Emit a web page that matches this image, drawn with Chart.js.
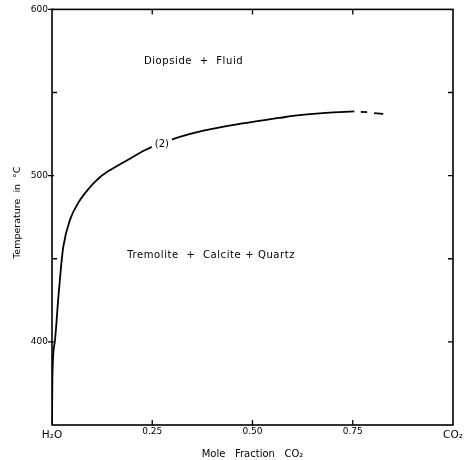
<!DOCTYPE html>
<html>
<head>
<meta charset="utf-8">
<script src="https://cdn.jsdelivr.net/npm/chart.js@4.4.1/dist/chart.umd.min.js"></script>
<style>
  html, body { margin: 0; padding: 0; background: #fff; }
  canvas { display: block; }
</style>
</head>
<body>
<canvas id="c" width="474" height="460"></canvas>
<script>
// ---- data ----
const curveX = [0, 0.001, 0.007, 0.0157, 0.0224, 0.0281, 0.0448, 0.0654, 0.0903, 0.1194, 0.1485, 0.1898, 0.2313, 0.3017, 0.3806, 0.475, 0.567, 0.600, 0.683, 0.754];
const curveT = [350, 379, 400, 426.4, 444.8, 457.1, 473.4, 483.6, 491.8, 499, 503.9, 509.6, 515.3, 522, 527.2, 531.4, 534.7, 535.9, 537.7, 538.6];
const dash1X = [0.770, 0.786];
const dash1T = [538.3, 538.2];
const dash2X = [0.803, 0.826];
const dash2T = [537.6, 537.2];
const xTickValues = [0, 0.25, 0.5, 0.75, 1];
const yTickValues = [350, 400, 450, 500, 550, 600];
const yLabelled = [400, 500, 600];
const xEndLabels = { 0: 'H₂O', 1: 'CO₂' };
const fieldLabels = [
  { text: 'Diopside  +  Fluid', x: 0.353, t: 569 },
  { text: 'Tremolite  +  Calcite + Quartz', x: 0.397, t: 452 }
];
const curveLabel = { text: '(2)', x: 0.274, t: 519 };

const FONT = 'DejaVu Sans';
const toPts = (xs, ys) => xs.map((x, i) => ({ x: x, y: ys[i] }));
const lineStyle = { borderColor: '#000', borderWidth: 1.8, pointRadius: 0, showLine: true, fill: false };

const framePlugin = {
  id: 'frame',
  afterDatasetsDraw(chart) {
    const { ctx, chartArea: a, scales: { x, y } } = chart;
    ctx.save();
    ctx.textAlign = 'center';
    ctx.textBaseline = 'middle';
    // curve label with gap in the line
    ctx.font = '10px ' + FONT;
    const lx = x.getPixelForValue(curveLabel.x), ly = y.getPixelForValue(curveLabel.t);
    const w = ctx.measureText(curveLabel.text).width + 6;
    ctx.fillStyle = '#fff';
    ctx.fillRect(lx - w / 2, ly - 6, w, 12);
    ctx.fillStyle = '#000';
    ctx.fillText(curveLabel.text, lx, ly);
    // field labels
    ctx.font = '10px ' + FONT;
    try { ctx.letterSpacing = '0.6px'; } catch (e) {}
    fieldLabels.forEach(l => {
      ctx.fillText(l.text, x.getPixelForValue(l.x), y.getPixelForValue(l.t));
    });
    try { ctx.letterSpacing = '0px'; } catch (e) {}
    // frame
    ctx.strokeStyle = '#000';
    ctx.lineWidth = 1.6;
    ctx.strokeRect(a.left, a.top, a.right - a.left, a.bottom - a.top);
    // ticks
    ctx.lineWidth = 1.3;
    ctx.beginPath();
    yTickValues.forEach(v => {
      if (v === 350) return;
      const py = y.getPixelForValue(v);
      const major = yLabelled.includes(v);
      ctx.moveTo(a.left - (major ? 4 : 0), py);
      ctx.lineTo(a.left + (major ? 2 : 5), py);
      if (v !== 600) {
        ctx.moveTo(a.right, py);
        ctx.lineTo(a.right - 5, py);
      }
    });
    xTickValues.forEach(v => {
      if (v === 0 || v === 1) return;
      const px = x.getPixelForValue(v);
      ctx.moveTo(px, a.top);
      ctx.lineTo(px, a.top + 5);
      ctx.moveTo(px, a.bottom);
      ctx.lineTo(px, a.bottom - 5);
    });
    ctx.stroke();
    ctx.restore();
  }
};

new Chart(document.getElementById('c'), {
  type: 'scatter',
  data: {
    datasets: [
      Object.assign({ data: toPts(curveX, curveT), cubicInterpolationMode: 'monotone' }, lineStyle),
      Object.assign({ data: toPts(dash1X, dash1T) }, lineStyle),
      Object.assign({ data: toPts(dash2X, dash2T) }, lineStyle)
    ]
  },
  options: {
    responsive: false,
    animation: false,
    layout: { padding: { top: 6, right: 21, left: 0, bottom: 0 } },
    plugins: { legend: { display: false }, tooltip: { enabled: false } },
    scales: {
      x: {
        type: 'linear', min: 0, max: 1,
        afterFit: s => { s.height = 35; },
        afterBuildTicks: s => { s.ticks = xTickValues.map(v => ({ value: v })); },
        grid: { display: false, drawTicks: false },
        border: { display: false },
        ticks: {
          autoSkip: false, maxRotation: 0, padding: 1, color: '#000',
          callback: v => (v in xEndLabels) ? ['', xEndLabels[v]] : v.toFixed(2),
          font: c => (c.tick && (c.tick.value === 0 || c.tick.value === 1))
            ? { family: FONT, size: 10.5, lineHeight: 0.6 }
            : { family: FONT, size: 9 }
        },
        title: { display: true, text: 'Mole   Fraction   CO₂', color: '#000',
                 font: { family: FONT, size: 10 }, padding: { top: 2, bottom: 0 } }
      },
      y: {
        type: 'linear', min: 350, max: 600,
        afterFit: s => { s.width = 52; },
        afterBuildTicks: s => { s.ticks = yTickValues.map(v => ({ value: v })); },
        grid: { display: false, drawTicks: false },
        border: { display: false },
        ticks: {
          autoSkip: false, padding: 4, color: '#000',
          font: { family: FONT, size: 9 },
          callback: v => yLabelled.includes(v) ? String(v) : ''
        },
        title: { display: true, text: '   Temperature  in  °C', color: '#000',
                 font: { family: FONT, size: 9.5 }, padding: { top: 12, bottom: 0 } }
      }
    }
  },
  plugins: [framePlugin]
});
</script>
</body>
</html>
